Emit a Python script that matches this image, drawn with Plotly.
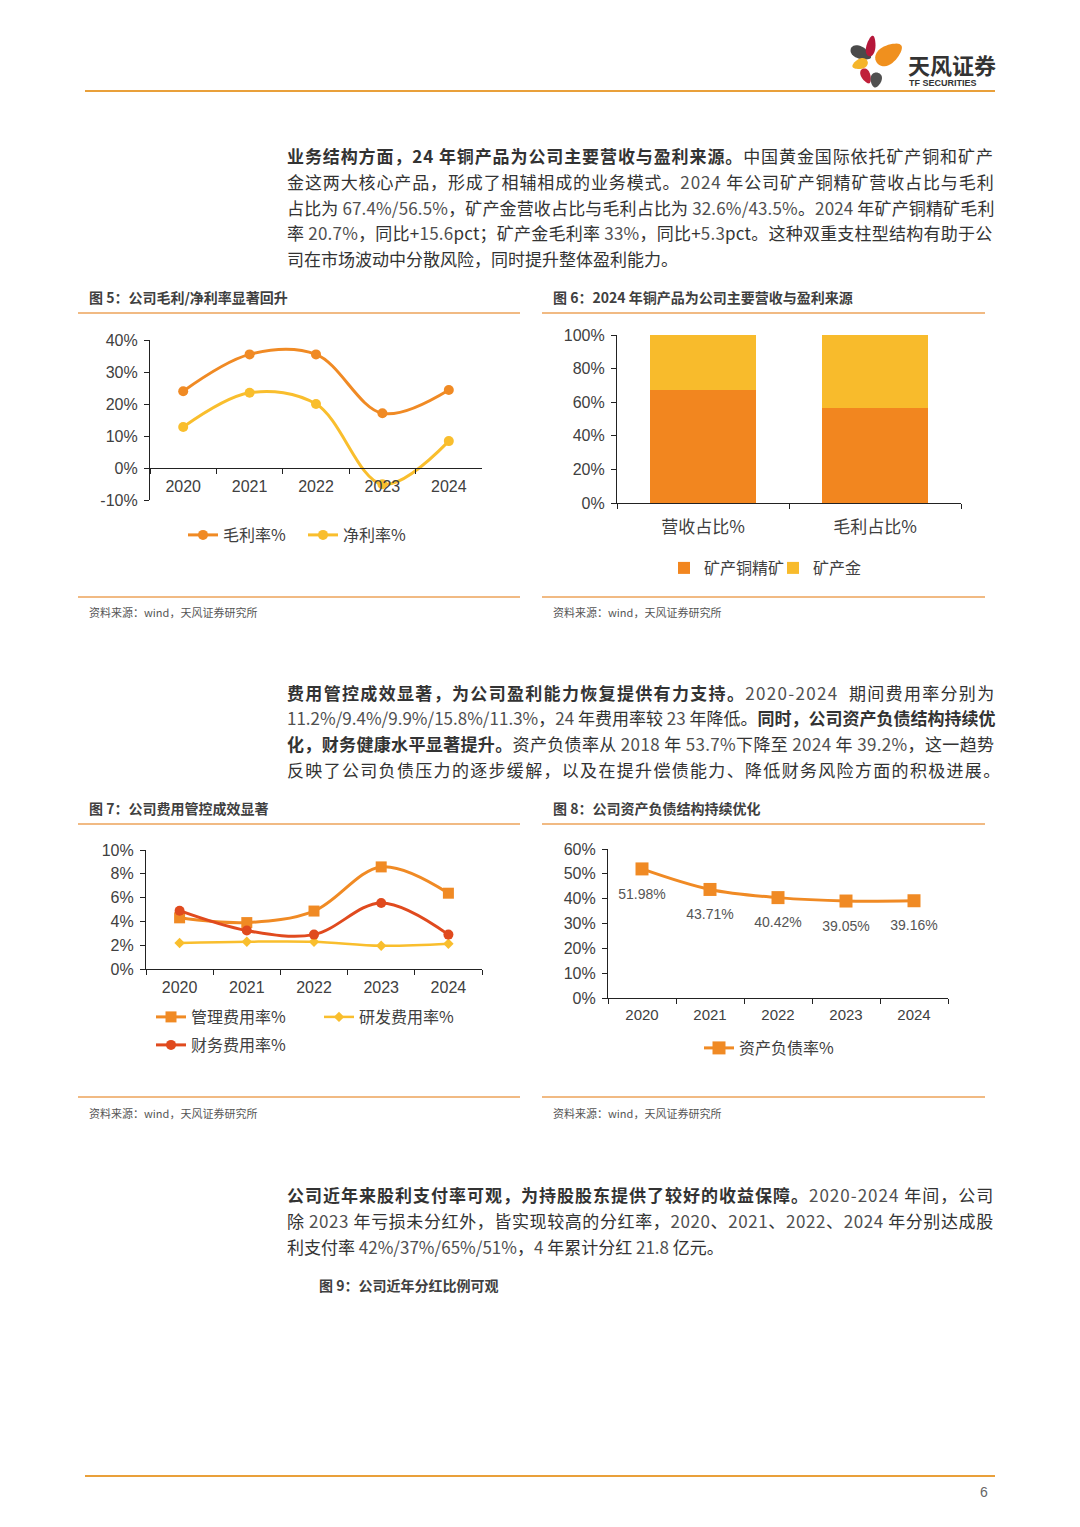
import math
import re
import plotly.graph_objects as go

# page is 1080x1527; body margin of 8px is compensated
OFF = 8
W, H = 1080 - 2 * OFF, 1527 - 2 * OFF

# ---------------- data ----------------
years = ["2020", "2021", "2022", "2023", "2024"]
gross_margin = [24.0, 35.5, 35.5, 17.1, 24.4]
net_margin = [12.8, 23.5, 20.0, -5.1, 8.4]

share_cats = ["营收占比%", "毛利占比%"]
copper_share = [67.4, 56.5]
gold_share = [32.6, 43.5]

admin_rate = [4.3, 3.9, 4.87, 8.58, 6.37]
rd_rate = [2.18, 2.29, 2.29, 1.95, 2.12]
fin_rate = [4.9, 3.23, 2.89, 5.55, 2.89]

debt_ratio = [51.98, 43.71, 40.42, 39.05, 39.16]
debt_labels = ["51.98%", "43.71%", "40.42%", "39.05%", "39.16%"]

# ---------------- helpers ----------------
def px(x):
    return (x - OFF) / W

def py(y):
    return 1 - (y - OFF) / H

ORANGE = "#F08A24"
YELLOW = "#F9BE2D"
RED = "#E04A1E"
BAR_OR = "#F2861F"
BAR_YE = "#F8BB2C"
LINE_COL = "#EDA35A"
TXT = "#333333"
AX = "#404040"
CJK = "Noto Sans CJK SC"
TICKF = "Liberation Sans, Noto Sans CJK SC"

fig = go.Figure()

# Chart 5 lines
fig.add_trace(go.Scatter(x=years, y=gross_margin, name="毛利率%", mode="lines+markers",
                         line=dict(color=ORANGE, width=3, shape="spline"),
                         marker=dict(size=10, color=ORANGE), xaxis="x", yaxis="y", legend="legend"))
fig.add_trace(go.Scatter(x=years, y=net_margin, name="净利率%", mode="lines+markers",
                         line=dict(color=YELLOW, width=3, shape="spline"),
                         marker=dict(size=10, color=YELLOW), xaxis="x", yaxis="y", legend="legend2"))

# Chart 6 bars
fig.add_trace(go.Bar(x=share_cats, y=copper_share, name="矿产铜精矿", marker=dict(color=BAR_OR, line=dict(width=0)),
                     xaxis="x2", yaxis="y2", legend="legend3"))
fig.add_trace(go.Bar(x=share_cats, y=gold_share, name="矿产金", marker=dict(color=BAR_YE, line=dict(width=0)),
                     xaxis="x2", yaxis="y2", legend="legend4"))

# Chart 7 lines
fig.add_trace(go.Scatter(x=years, y=admin_rate, name="管理费用率%", mode="lines+markers",
                         line=dict(color=ORANGE, width=3, shape="spline"),
                         marker=dict(size=11, color=ORANGE, symbol="square"), xaxis="x3", yaxis="y3", legend="legend5"))
fig.add_trace(go.Scatter(x=years, y=rd_rate, name="研发费用率%", mode="lines+markers",
                         line=dict(color=YELLOW, width=2.5, shape="spline"),
                         marker=dict(size=8, color=YELLOW, symbol="diamond"), xaxis="x3", yaxis="y3", legend="legend6"))
fig.add_trace(go.Scatter(x=years, y=fin_rate, name="财务费用率%", mode="lines+markers",
                         line=dict(color=RED, width=3, shape="spline"),
                         marker=dict(size=10, color=RED), xaxis="x3", yaxis="y3", legend="legend7"))

# Chart 8 line + labels
fig.add_trace(go.Scatter(x=years, y=debt_ratio, name="资产负债率%", mode="lines+markers",
                         line=dict(color=ORANGE, width=3, shape="spline"),
                         marker=dict(size=13, color=ORANGE, symbol="square"), xaxis="x4", yaxis="y4", legend="legend8"))
fig.add_trace(go.Scatter(x=years, y=debt_ratio, mode="markers+text", text=debt_labels,
                         textposition="bottom center", showlegend=False, hoverinfo="skip",
                         textfont=dict(size=14, color="#555555", family=TICKF),
                         marker=dict(size=29, opacity=0), xaxis="x4", yaxis="y4"))

# ---------------- axes ----------------
def yax(dom, vals, anchor):
    return dict(domain=[py(dom[0]), py(dom[1])], range=[vals[0], vals[-1]],
                tickmode="array", tickvals=vals, ticktext=[f"{v}%" for v in vals],
                showgrid=False, zeroline=False, showline=True, linecolor="#222222", linewidth=1.2,
                ticks="outside", ticklen=5, tickcolor="#222222", anchor=anchor, ticklabelstandoff=3,
                tickfont=dict(family=TICKF, size=16, color=AX), fixedrange=True, automargin=False)

def xax(dom, anchor, ncat, **kw):
    d = dict(domain=[px(dom[0]), px(dom[1])], type="category", range=[-0.5, ncat - 0.5],
             showgrid=False, zeroline=False,
             showline=True, linecolor="#222222", linewidth=1.2, ticks="outside", ticklen=5,
             tickcolor="#222222", tickson="boundaries", anchor=anchor, ticklabelstandoff=4,
             tickfont=dict(family=TICKF, size=16, color=AX), fixedrange=True, automargin=False)
    d.update(kw)
    return d

layout = dict(
    width=W, height=H, margin=dict(l=0, r=0, t=0, b=0, autoexpand=False),
    paper_bgcolor="white", plot_bgcolor="rgba(0,0,0,0)",
    barmode="stack", bargap=0.38, showlegend=True,
    font=dict(family=CJK, color=TXT),
    xaxis=xax((150, 482), "free", len(years), position=py(468)),
    yaxis=yax((500, 340), [-10, 0, 10, 20, 30, 40], "x"),
    xaxis2=xax((617, 961), "y2", len(share_cats), tickfont=dict(family=CJK, size=17, color=AX), ticklabelstandoff=8),
    yaxis2=yax((503, 335), [0, 20, 40, 60, 80, 100], "x2"),
    xaxis3=xax((146, 482), "y3", len(years)),
    yaxis3=yax((969, 850), [0, 2, 4, 6, 8, 10], "x3"),
    xaxis4=xax((608, 948), "y4", len(years), tickfont=dict(family=TICKF, size=15, color=AX), ticklabelstandoff=3),
    yaxis4=yax((998, 849), [0, 10, 20, 30, 40, 50, 60], "x4"),
)

def leg(xp, yp):
    return dict(x=px(xp), y=py(yp), xanchor="left", yanchor="middle", orientation="h",
                bgcolor="rgba(0,0,0,0)", borderwidth=0, font=dict(family=CJK, size=16, color=AX))

layout["legend"] = leg(183, 535)
layout["legend2"] = leg(303, 535)
layout["legend3"] = leg(664, 568)
layout["legend4"] = leg(773, 568)
layout["legend5"] = leg(151, 1017)
layout["legend6"] = leg(319, 1017)
layout["legend7"] = leg(151, 1045)
layout["legend8"] = leg(699, 1048)
fig.update_layout(**layout)

# ---------------- page furniture ----------------
shapes = []
def hline(x0, x1, y, color, width):
    shapes.append(dict(type="line", xref="paper", yref="paper", x0=px(x0), x1=px(x1), y0=py(y), y1=py(y),
                       line=dict(color=color, width=width)))

hline(85, 995, 91, "#E9A03A", 2.2)
hline(85, 995, 1476, "#E9A03A", 2.2)
for yy in (313, 597, 824, 1097):
    hline(78, 520, yy, LINE_COL, 1.5)
    hline(542, 985, yy, LINE_COL, 1.5)

def petal(cx, cy, length, width, ang, color):
    pts = []
    a = math.radians(ang)
    for i in range(40):
        t = 2 * math.pi * i / 40
        ex = (length / 2) * math.cos(t)
        ey = (width / 2) * math.sin(t) * (1 - 0.25 * math.cos(t))
        x = cx + ex * math.cos(a) - ey * math.sin(a)
        y = cy + ex * math.sin(a) + ey * math.cos(a)
        pts.append((px(x), py(y)))
    path = "M" + " L".join(f"{x:.5f},{y:.5f}" for x, y in pts) + " Z"
    shapes.append(dict(type="path", xref="paper", yref="paper", path=path,
                       fillcolor=color, line=dict(width=0)))

petal(861, 53, 22, 12, 25, "#4A4A4A")
petal(871, 46, 21, 9, -80, "#B5173A")
petal(889, 54, 30, 18, -35, "#F0901E")
petal(860, 64, 16, 10, 160, "#F5B52A")
petal(866, 76, 16, 9, 65, "#C0203A")
petal(876, 80, 15, 11, 100, "#505050")

ann = []
def text(x, y, s, size, color=TXT, family=CJK, xanchor="left"):
    ann.append(dict(xref="paper", yref="paper", x=px(x), y=py(y), text=s, showarrow=False,
                    xanchor=xanchor, yanchor="middle", font=dict(size=size, color=color, family=family)))

text(906, 64, "<b>天风证券</b>", 22, "#333333")
text(907, 83, "<b>TF SECURITIES</b>", 9, "#333333", "Liberation Sans")
text(990, 1492, "6", 14, "#666666", "Liberation Sans", xanchor="right")

P1 = [
    "<b>业务结构方面，24 年铜产品为公司主要营收与盈利来源。</b>中国黄金国际依托矿产铜和矿产",
    "金这两大核心产品，形成了相辅相成的业务模式。2024 年公司矿产铜精矿营收占比与毛利",
    "占比为 67.4%/56.5%，矿产金营收占比与毛利占比为 32.6%/43.5%。2024 年矿产铜精矿毛利",
    "率 20.7%，同比+15.6pct；矿产金毛利率 33%，同比+5.3pct。这种双重支柱型结构有助于公",
    "司在市场波动中分散风险，同时提升整体盈利能力。",
]
P2 = [
    "<b>费用管控成效显著，为公司盈利能力恢复提供有力支持。</b>2020-2024  期间费用率分别为",
    "11.2%/9.4%/9.9%/15.8%/11.3%，24 年费用率较 23 年降低。<b>同时，公司资产负债结构持续优</b>",
    "<b>化，财务健康水平显著提升。</b>资产负债率从 2018 年 53.7%下降至 2024 年 39.2%，这一趋势",
    "反映了公司负债压力的逐步缓解，以及在提升偿债能力、降低财务风险方面的积极进展。",
]
P3 = [
    "<b>公司近年来股利支付率可观，为持股股东提供了较好的收益保障。</b>2020-2024 年间，公司",
    "除 2023 年亏损未分红外，皆实现较高的分红率，2020、2021、2022、2024 年分别达成股",
    "利支付率 42%/37%/65%/51%，4 年累计分红 21.8 亿元。",
]
# extra px needed per line to reach the justified right edge
P1_fill = [36, 36, 8, 12, 0]
P2_fill = [57, 0, 18, 50]
P3_fill = [43, 30, 0]

def styled(line, fill):
    plain = re.sub(r"<[^>]+>", "", line)
    parts = re.split(r"(<b>.*?</b>)", line)
    out = []
    for p in parts:
        if p.startswith("<b>"):
            out.append(p)
        else:
            out.append(re.sub(r"([0-9][0-9.%/\-]*%?)", r'<span style="color:#505050">\1</span>', p))
    s = "".join(out)
    if fill > 0:
        ls = fill / max(len(plain) - 1, 1)
        s = f'<span style="letter-spacing:{ls:.2f}px">' + s + "</span>"
    return s

for i, s in enumerate(P1):
    text(285, 156 + i * 25.5, styled(s, P1_fill[i]), 17)
for i, s in enumerate(P2):
    text(285, 692 + i * 25.8, styled(s, P2_fill[i]), 17)
for i, s in enumerate(P3):
    text(285, 1194 + i * 26, styled(s, P3_fill[i]), 17)

text(87, 297, "<b>图 5：公司毛利/净利率显著回升</b>", 14, "#404040")
text(551, 297, "<b>图 6：2024 年铜产品为公司主要营收与盈利来源</b>", 14, "#404040")
text(87, 808, "<b>图 7：公司费用管控成效显著</b>", 14, "#404040")
text(551, 808, "<b>图 8：公司资产负债结构持续优化</b>", 14, "#404040")
text(317, 1285, "<b>图 9：公司近年分红比例可观</b>", 14, "#404040")

for xx, yy in ((87, 612), (551, 612), (87, 1113), (551, 1113)):
    text(xx, yy, "资料来源：wind，天风证券研究所", 11, "#555555")

fig.update_layout(shapes=shapes, annotations=ann)
fig.write_html("out.html")
